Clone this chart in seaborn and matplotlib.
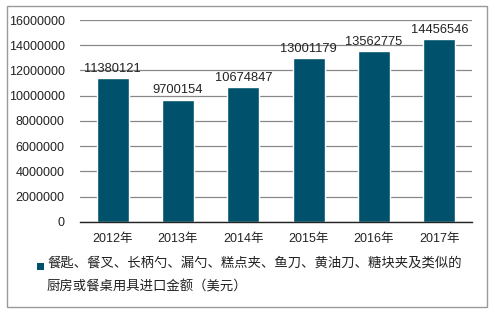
import matplotlib
matplotlib.use("Agg")
import matplotlib.pyplot as plt
import seaborn as sns
import pandas as pd
from matplotlib.patches import Rectangle

years = ["2012年", "2013年", "2014年", "2015年", "2016年", "2017年"]
values = [11380121, 9700154, 10674847, 13001179, 13562775, 14456546]
yticks = [0, 2000000, 4000000, 6000000, 8000000, 10000000, 12000000, 14000000, 16000000]
legend_label = "餐匙、餐叉、长柄勺、漏勺、糕点夹、鱼刀、黄油刀、糖块夹及类似的\n厨房或餐桌用具进口金额（美元）"

sns.set_theme(style="white")
plt.rcParams['font.family'] = ['Liberation Sans', 'Noto Sans CJK SC', 'DejaVu Sans']

color = "#00516B"
df = pd.DataFrame({"year": years, "value": values})

fig = plt.figure(figsize=(4.95, 3.16), dpi=100)
ax = fig.add_axes([0.1616, 0.2975, 0.7919, 0.6392])
sns.barplot(data=df, x="year", y="value", color=color, width=0.49, ax=ax, saturation=1)

ax.set_ylim(0, 16000000)
ax.set_yticks(yticks)
ax.set_yticklabels([str(v) for v in yticks], fontsize=9, color="#222222")
ax.tick_params(axis='x', labelsize=9, colors="#222222", length=0, pad=8)
ax.tick_params(axis='y', length=0, pad=11)
ax.set_xlabel("")
ax.set_ylabel("")
ax.yaxis.grid(True, color="#888888", linewidth=0.9)
ax.set_axisbelow(True)
for s in ["top", "right", "left"]:
    ax.spines[s].set_visible(False)
ax.spines["bottom"].set_color("#222222")
ax.spines["bottom"].set_linewidth(1)

for i, v in enumerate(values):
    ax.text(i, v + 250000, str(v), ha="center", va="bottom", fontsize=9.3, color="#222222")

# legend
fig.patches.append(Rectangle((37/495, 1 - 270/316), 7/495, 7/316, transform=fig.transFigure,
                             facecolor=color, edgecolor="none"))
fig.text(47/495, 1 - 257/316, legend_label, fontsize=9.6, color="#222222",
         va="top", ha="left", linespacing=2.05)
# border
fig.patches.append(Rectangle((7/495, 1 - 307/316), 480/495, 301/316, transform=fig.transFigure,
                             facecolor="none", edgecolor="#999999", linewidth=1))

fig.savefig("out.png", dpi=100)
